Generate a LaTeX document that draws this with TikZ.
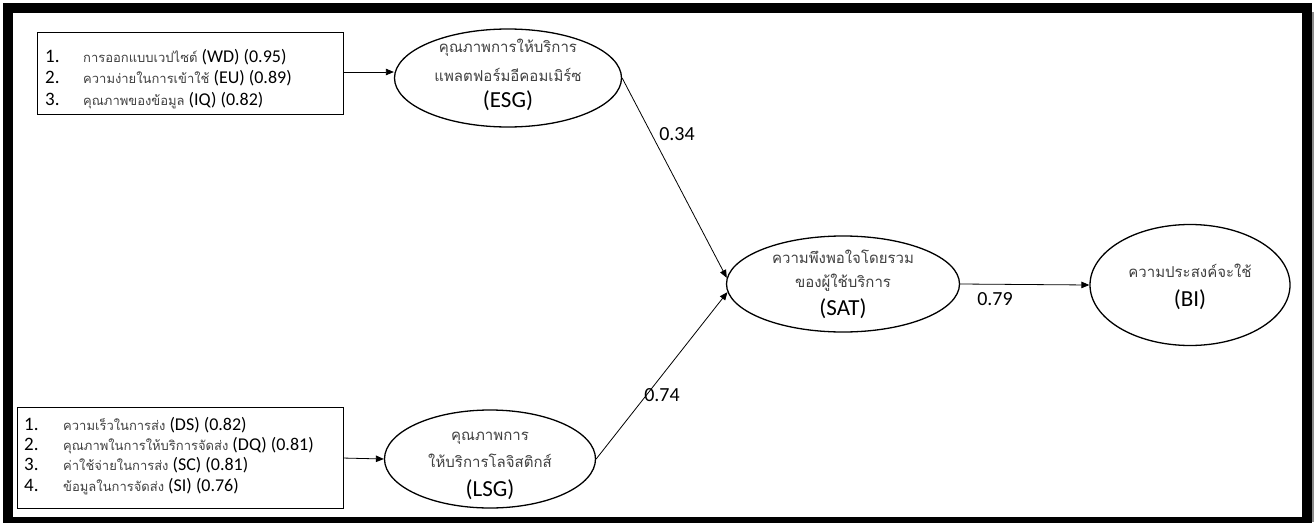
\documentclass[tikz,border=0pt]{standalone}
\usepackage{fontspec}
\setmainfont{Carlito}
\newfontfamily\thaifont[Script=Thai]{Loma}
\usetikzlibrary{arrows.meta,shapes.geometric}
\definecolor{thaigray}{gray}{0.25}
\newcommand{\tht}[1]{{\thaifont\fontsize{13}{16}\selectfont\color{thaigray}#1}}
\begin{document}
\begin{tikzpicture}[x=1pt,y=-1pt,
  ell/.style={draw, ellipse, line width=1.3pt, inner sep=0pt},
  listbox/.style={draw, rectangle, line width=1.1pt, anchor=north west, inner sep=0pt},
  conn/.style={line width=0.8pt, -{Triangle[length=8pt,width=6.5pt]}},
  coef/.style={font=\fontsize{20}{24}\selectfont, anchor=base, inner sep=0pt},
  thl/.style={font=\thaifont\fontsize{15}{18}\selectfont, text=thaigray, anchor=base, inner sep=0pt},
  latl/.style={font=\fontsize{23}{27}\selectfont, anchor=base, inner sep=0pt},
  num/.style={font=\fontsize{19}{22}\selectfont, anchor=base west, inner sep=0pt},
  item/.style={font=\fontsize{18}{21}\selectfont, anchor=base west, inner sep=0pt}]
\useasboundingbox (0,0) rectangle (1314,522);
\fill[white] (0,0) rectangle (1314,522);
\draw[line width=10pt] (8,8) rectangle (1307,522);
\fill[black!45] (1312,12) rectangle (1314,522);

% list boxes
\node[listbox, minimum width=306pt, minimum height=82pt] (b1) at (37,32) {};
\node[num] (b1n1) at (45,62) {1.};
\node[item] (b1t1) at (83,62) {\tht{การออกแบบเวปไซต์} (WD) (0.95)};
\node[num] (b1n2) at (45,83.5) {2.};
\node[item] (b1t2) at (83,83.5) {\tht{ความง่ายในการเข้าใช้} (EU) (0.89)};
\node[num] (b1n3) at (45,105) {3.};
\node[item] (b1t3) at (83,105) {\tht{คุณภาพของข้อมูล} (IQ) (0.82)};

\node[listbox, minimum width=326pt, minimum height=101pt] (b2) at (17,407) {};
\node[num] (b2n1) at (24,430) {1.};
\node[item] (b2t1) at (63,430) {\tht{ความเร็วในการส่ง} (DS) (0.82)};
\node[num] (b2n2) at (24,450.3) {2.};
\node[item] (b2t2) at (63,450.3) {\tht{คุณภาพในการให้บริการจัดส่ง} (DQ) (0.81)};
\node[num] (b2n3) at (24,470.6) {3.};
\node[item] (b2t3) at (63,470.6) {\tht{ค่าใช้จ่ายในการส่ง} (SC) (0.81)};
\node[num] (b2n4) at (24,491) {4.};
\node[item] (b2t4) at (63,491) {\tht{ข้อมูลในการจัดส่ง} (SI) (0.76)};

% ellipses
\node[ell, minimum width=227pt, minimum height=98pt] (esg) at (508,78) {};
\node[thl] (esg1) at (508,52) {คุณภาพการให้บริการ};
\node[thl] (esg2) at (508,81) {แพลตฟอร์มอีคอมเมิร์ซ};
\node[latl] (esg3) at (508,107) {(ESG)};

\node[ell, minimum width=211pt, minimum height=98pt] (lsg) at (490,459) {};
\node[thl] (lsg1) at (490,440) {คุณภาพการ};
\node[thl] (lsg2) at (490,467) {ให้บริการโลจิสติกส์};
\node[latl] (lsg3) at (490,496) {(LSG)};

\node[ell, minimum width=233pt, minimum height=96pt] (sat) at (843,284) {};
\node[thl] (sat1) at (843,263) {ความพึงพอใจโดยรวม};
\node[thl] (sat2) at (843,287) {ของผู้ใช้บริการ};
\node[latl] (sat3) at (843,315) {(SAT)};

\node[ell, minimum width=200pt, minimum height=121pt] (bi) at (1190,285) {};
\node[thl] (bi1) at (1190,277) {ความประสงค์จะใช้};
\node[latl] (bi2) at (1190,306) {(BI)};

% connectors
\draw[conn] (b1.east |- 0,72) -- (esg.west |- 0,72);
\draw[conn] (b2.east) -- (lsg.west);
\draw[conn] (esg.east) -- (sat.177);
\draw[conn] (lsg.east) -- (sat.184);
\draw[conn] (sat.east) -- (bi.west);

% coefficients
\node[coef] (c1) at (677,140) {0.34};
\node[coef] (c2) at (662,401) {0.74};
\node[coef] (c3) at (995,305) {0.79};
\end{tikzpicture}
\end{document}
